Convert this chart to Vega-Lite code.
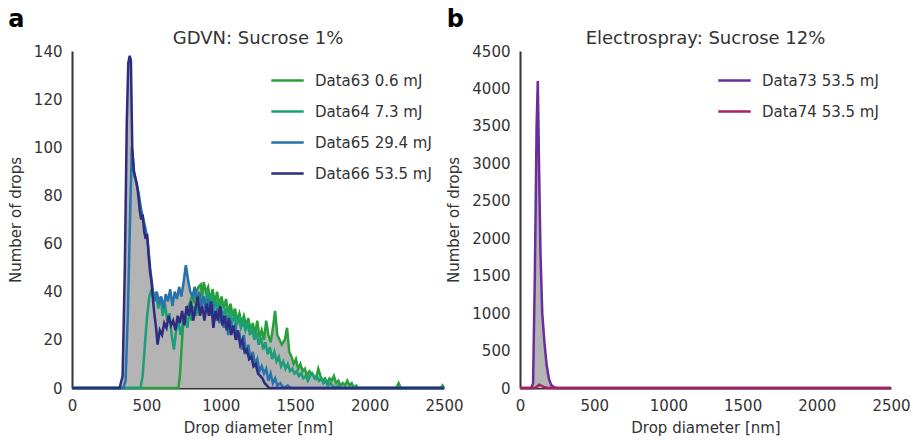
{
  "$schema": "https://vega.github.io/schema/vega-lite/v6.json",
  "background": "white",
  "padding": {"left": 8, "top": 8, "right": 6, "bottom": 2},
  "config": {
    "font": "DejaVu Sans",
    "view": {"stroke": null},
    "axis": {"domainColor": "#333333", "domainWidth": 2, "ticks": false, "tickSize": 0, "grid": false, "labelFont": "DejaVu Sans", "labelFontSize": 15, "labelColor": "#333333", "labelPadding": 10, "titleFont": "DejaVu Sans", "titleFontSize": 15, "titleFontWeight": "normal", "titleColor": "#333333", "format": "d"},
    "legend": {"labelFont": "DejaVu Sans", "labelFontSize": 15, "labelColor": "#333333", "symbolType": "stroke", "symbolSize": 1050, "symbolStrokeWidth": 2.5, "labelOffset": 10, "rowPadding": 5, "orient": "top-right", "offset": 12},
    "title": {"font": "DejaVu Sans", "color": "#333333"}
  },
  "datasets": {
    "gdvn": [
      {"d":0,"n":0,"s":"Data63 0.6 mJ"},{"d":715,"n":0,"s":"Data63 0.6 mJ"},{"d":725,"n":5,"s":"Data63 0.6 mJ"},{"d":735,"n":15,"s":"Data63 0.6 mJ"},{"d":745,"n":25,"s":"Data63 0.6 mJ"},{"d":760,"n":30,"s":"Data63 0.6 mJ"},{"d":775,"n":33,"s":"Data63 0.6 mJ"},{"d":790,"n":35,"s":"Data63 0.6 mJ"},{"d":805,"n":38,"s":"Data63 0.6 mJ"},{"d":820,"n":36,"s":"Data63 0.6 mJ"},{"d":835,"n":40,"s":"Data63 0.6 mJ"},{"d":850,"n":42,"s":"Data63 0.6 mJ"},{"d":865,"n":43,"s":"Data63 0.6 mJ"},{"d":875,"n":38,"s":"Data63 0.6 mJ"},{"d":885,"n":44,"s":"Data63 0.6 mJ"},{"d":900,"n":40,"s":"Data63 0.6 mJ"},{"d":915,"n":42,"s":"Data63 0.6 mJ"},{"d":930,"n":36,"s":"Data63 0.6 mJ"},{"d":945,"n":41,"s":"Data63 0.6 mJ"},{"d":960,"n":35,"s":"Data63 0.6 mJ"},{"d":975,"n":40,"s":"Data63 0.6 mJ"},{"d":990,"n":34,"s":"Data63 0.6 mJ"},{"d":1005,"n":38,"s":"Data63 0.6 mJ"},{"d":1020,"n":33,"s":"Data63 0.6 mJ"},{"d":1035,"n":37,"s":"Data63 0.6 mJ"},{"d":1050,"n":31,"s":"Data63 0.6 mJ"},{"d":1065,"n":35,"s":"Data63 0.6 mJ"},{"d":1080,"n":30,"s":"Data63 0.6 mJ"},{"d":1095,"n":33,"s":"Data63 0.6 mJ"},{"d":1110,"n":28,"s":"Data63 0.6 mJ"},{"d":1125,"n":31,"s":"Data63 0.6 mJ"},{"d":1140,"n":27,"s":"Data63 0.6 mJ"},{"d":1155,"n":30,"s":"Data63 0.6 mJ"},{"d":1170,"n":26,"s":"Data63 0.6 mJ"},{"d":1185,"n":29,"s":"Data63 0.6 mJ"},{"d":1200,"n":24,"s":"Data63 0.6 mJ"},{"d":1215,"n":27,"s":"Data63 0.6 mJ"},{"d":1230,"n":22,"s":"Data63 0.6 mJ"},{"d":1245,"n":28,"s":"Data63 0.6 mJ"},{"d":1260,"n":21,"s":"Data63 0.6 mJ"},{"d":1275,"n":24,"s":"Data63 0.6 mJ"},{"d":1290,"n":20,"s":"Data63 0.6 mJ"},{"d":1305,"n":28,"s":"Data63 0.6 mJ"},{"d":1320,"n":22,"s":"Data63 0.6 mJ"},{"d":1335,"n":19,"s":"Data63 0.6 mJ"},{"d":1350,"n":25,"s":"Data63 0.6 mJ"},{"d":1365,"n":32,"s":"Data63 0.6 mJ"},{"d":1380,"n":22,"s":"Data63 0.6 mJ"},{"d":1395,"n":20,"s":"Data63 0.6 mJ"},{"d":1410,"n":18,"s":"Data63 0.6 mJ"},{"d":1430,"n":20,"s":"Data63 0.6 mJ"},{"d":1445,"n":25,"s":"Data63 0.6 mJ"},{"d":1460,"n":15,"s":"Data63 0.6 mJ"},{"d":1475,"n":13,"s":"Data63 0.6 mJ"},{"d":1490,"n":10,"s":"Data63 0.6 mJ"},{"d":1505,"n":12,"s":"Data63 0.6 mJ"},{"d":1520,"n":8,"s":"Data63 0.6 mJ"},{"d":1535,"n":10,"s":"Data63 0.6 mJ"},{"d":1550,"n":7,"s":"Data63 0.6 mJ"},{"d":1565,"n":8,"s":"Data63 0.6 mJ"},{"d":1580,"n":5,"s":"Data63 0.6 mJ"},{"d":1595,"n":7,"s":"Data63 0.6 mJ"},{"d":1610,"n":6,"s":"Data63 0.6 mJ"},{"d":1625,"n":5,"s":"Data63 0.6 mJ"},{"d":1640,"n":4,"s":"Data63 0.6 mJ"},{"d":1655,"n":8,"s":"Data63 0.6 mJ"},{"d":1670,"n":5,"s":"Data63 0.6 mJ"},{"d":1685,"n":3,"s":"Data63 0.6 mJ"},{"d":1700,"n":4,"s":"Data63 0.6 mJ"},{"d":1715,"n":2,"s":"Data63 0.6 mJ"},{"d":1730,"n":4,"s":"Data63 0.6 mJ"},{"d":1745,"n":3,"s":"Data63 0.6 mJ"},{"d":1760,"n":5,"s":"Data63 0.6 mJ"},{"d":1775,"n":2,"s":"Data63 0.6 mJ"},{"d":1790,"n":3,"s":"Data63 0.6 mJ"},{"d":1805,"n":1,"s":"Data63 0.6 mJ"},{"d":1820,"n":2,"s":"Data63 0.6 mJ"},{"d":1835,"n":1,"s":"Data63 0.6 mJ"},{"d":1850,"n":3,"s":"Data63 0.6 mJ"},{"d":1865,"n":1,"s":"Data63 0.6 mJ"},{"d":1880,"n":2,"s":"Data63 0.6 mJ"},{"d":1895,"n":0,"s":"Data63 0.6 mJ"},{"d":1910,"n":1,"s":"Data63 0.6 mJ"},{"d":1925,"n":0,"s":"Data63 0.6 mJ"},{"d":2180,"n":0,"s":"Data63 0.6 mJ"},{"d":2195,"n":2,"s":"Data63 0.6 mJ"},{"d":2210,"n":0,"s":"Data63 0.6 mJ"},{"d":2478,"n":0,"s":"Data63 0.6 mJ"},{"d":2490,"n":1,"s":"Data63 0.6 mJ"},{"d":2500,"n":0,"s":"Data63 0.6 mJ"},

      {"d":0,"n":0,"s":"Data64 7.3 mJ"},{"d":460,"n":0,"s":"Data64 7.3 mJ"},{"d":475,"n":5,"s":"Data64 7.3 mJ"},{"d":490,"n":18,"s":"Data64 7.3 mJ"},{"d":505,"n":30,"s":"Data64 7.3 mJ"},{"d":520,"n":38,"s":"Data64 7.3 mJ"},{"d":535,"n":41,"s":"Data64 7.3 mJ"},{"d":550,"n":36,"s":"Data64 7.3 mJ"},{"d":565,"n":40,"s":"Data64 7.3 mJ"},{"d":580,"n":33,"s":"Data64 7.3 mJ"},{"d":595,"n":38,"s":"Data64 7.3 mJ"},{"d":610,"n":30,"s":"Data64 7.3 mJ"},{"d":625,"n":35,"s":"Data64 7.3 mJ"},{"d":640,"n":28,"s":"Data64 7.3 mJ"},{"d":655,"n":31,"s":"Data64 7.3 mJ"},{"d":670,"n":22,"s":"Data64 7.3 mJ"},{"d":685,"n":16,"s":"Data64 7.3 mJ"},{"d":700,"n":24,"s":"Data64 7.3 mJ"},{"d":715,"n":28,"s":"Data64 7.3 mJ"},{"d":730,"n":22,"s":"Data64 7.3 mJ"},{"d":745,"n":27,"s":"Data64 7.3 mJ"},{"d":760,"n":30,"s":"Data64 7.3 mJ"},{"d":775,"n":25,"s":"Data64 7.3 mJ"},{"d":790,"n":32,"s":"Data64 7.3 mJ"},{"d":805,"n":28,"s":"Data64 7.3 mJ"},{"d":820,"n":34,"s":"Data64 7.3 mJ"},{"d":835,"n":30,"s":"Data64 7.3 mJ"},{"d":850,"n":36,"s":"Data64 7.3 mJ"},{"d":865,"n":32,"s":"Data64 7.3 mJ"},{"d":880,"n":38,"s":"Data64 7.3 mJ"},{"d":895,"n":34,"s":"Data64 7.3 mJ"},{"d":910,"n":40,"s":"Data64 7.3 mJ"},{"d":925,"n":36,"s":"Data64 7.3 mJ"},{"d":940,"n":38,"s":"Data64 7.3 mJ"},{"d":955,"n":33,"s":"Data64 7.3 mJ"},{"d":970,"n":36,"s":"Data64 7.3 mJ"},{"d":985,"n":31,"s":"Data64 7.3 mJ"},{"d":1000,"n":34,"s":"Data64 7.3 mJ"},{"d":1015,"n":30,"s":"Data64 7.3 mJ"},{"d":1030,"n":33,"s":"Data64 7.3 mJ"},{"d":1045,"n":28,"s":"Data64 7.3 mJ"},{"d":1060,"n":31,"s":"Data64 7.3 mJ"},{"d":1075,"n":27,"s":"Data64 7.3 mJ"},{"d":1090,"n":30,"s":"Data64 7.3 mJ"},{"d":1105,"n":26,"s":"Data64 7.3 mJ"},{"d":1120,"n":29,"s":"Data64 7.3 mJ"},{"d":1135,"n":25,"s":"Data64 7.3 mJ"},{"d":1150,"n":28,"s":"Data64 7.3 mJ"},{"d":1165,"n":24,"s":"Data64 7.3 mJ"},{"d":1180,"n":27,"s":"Data64 7.3 mJ"},{"d":1195,"n":22,"s":"Data64 7.3 mJ"},{"d":1210,"n":25,"s":"Data64 7.3 mJ"},{"d":1225,"n":20,"s":"Data64 7.3 mJ"},{"d":1240,"n":23,"s":"Data64 7.3 mJ"},{"d":1255,"n":18,"s":"Data64 7.3 mJ"},{"d":1270,"n":21,"s":"Data64 7.3 mJ"},{"d":1285,"n":16,"s":"Data64 7.3 mJ"},{"d":1300,"n":19,"s":"Data64 7.3 mJ"},{"d":1315,"n":14,"s":"Data64 7.3 mJ"},{"d":1330,"n":17,"s":"Data64 7.3 mJ"},{"d":1345,"n":12,"s":"Data64 7.3 mJ"},{"d":1360,"n":15,"s":"Data64 7.3 mJ"},{"d":1375,"n":11,"s":"Data64 7.3 mJ"},{"d":1390,"n":13,"s":"Data64 7.3 mJ"},{"d":1405,"n":9,"s":"Data64 7.3 mJ"},{"d":1420,"n":11,"s":"Data64 7.3 mJ"},{"d":1435,"n":8,"s":"Data64 7.3 mJ"},{"d":1450,"n":10,"s":"Data64 7.3 mJ"},{"d":1465,"n":7,"s":"Data64 7.3 mJ"},{"d":1480,"n":8,"s":"Data64 7.3 mJ"},{"d":1495,"n":6,"s":"Data64 7.3 mJ"},{"d":1510,"n":7,"s":"Data64 7.3 mJ"},{"d":1525,"n":5,"s":"Data64 7.3 mJ"},{"d":1540,"n":6,"s":"Data64 7.3 mJ"},{"d":1555,"n":4,"s":"Data64 7.3 mJ"},{"d":1570,"n":5,"s":"Data64 7.3 mJ"},{"d":1585,"n":3,"s":"Data64 7.3 mJ"},{"d":1600,"n":5,"s":"Data64 7.3 mJ"},{"d":1615,"n":6,"s":"Data64 7.3 mJ"},{"d":1630,"n":4,"s":"Data64 7.3 mJ"},{"d":1645,"n":5,"s":"Data64 7.3 mJ"},{"d":1660,"n":3,"s":"Data64 7.3 mJ"},{"d":1675,"n":4,"s":"Data64 7.3 mJ"},{"d":1690,"n":2,"s":"Data64 7.3 mJ"},{"d":1705,"n":3,"s":"Data64 7.3 mJ"},{"d":1720,"n":1,"s":"Data64 7.3 mJ"},{"d":1735,"n":2,"s":"Data64 7.3 mJ"},{"d":1750,"n":1,"s":"Data64 7.3 mJ"},{"d":1770,"n":0,"s":"Data64 7.3 mJ"},{"d":1790,"n":1,"s":"Data64 7.3 mJ"},{"d":1810,"n":0,"s":"Data64 7.3 mJ"},{"d":2500,"n":0,"s":"Data64 7.3 mJ"},

      {"d":0,"n":0,"s":"Data65 29.4 mJ"},{"d":345,"n":0,"s":"Data65 29.4 mJ"},{"d":360,"n":3,"s":"Data65 29.4 mJ"},{"d":375,"n":30,"s":"Data65 29.4 mJ"},{"d":390,"n":70,"s":"Data65 29.4 mJ"},{"d":402,"n":100,"s":"Data65 29.4 mJ"},{"d":410,"n":95,"s":"Data65 29.4 mJ"},{"d":420,"n":88,"s":"Data65 29.4 mJ"},{"d":435,"n":85,"s":"Data65 29.4 mJ"},{"d":450,"n":80,"s":"Data65 29.4 mJ"},{"d":465,"n":74,"s":"Data65 29.4 mJ"},{"d":480,"n":70,"s":"Data65 29.4 mJ"},{"d":495,"n":66,"s":"Data65 29.4 mJ"},{"d":510,"n":60,"s":"Data65 29.4 mJ"},{"d":525,"n":50,"s":"Data65 29.4 mJ"},{"d":540,"n":42,"s":"Data65 29.4 mJ"},{"d":555,"n":36,"s":"Data65 29.4 mJ"},{"d":570,"n":40,"s":"Data65 29.4 mJ"},{"d":585,"n":35,"s":"Data65 29.4 mJ"},{"d":600,"n":38,"s":"Data65 29.4 mJ"},{"d":615,"n":33,"s":"Data65 29.4 mJ"},{"d":630,"n":39,"s":"Data65 29.4 mJ"},{"d":645,"n":36,"s":"Data65 29.4 mJ"},{"d":660,"n":41,"s":"Data65 29.4 mJ"},{"d":675,"n":34,"s":"Data65 29.4 mJ"},{"d":690,"n":40,"s":"Data65 29.4 mJ"},{"d":705,"n":37,"s":"Data65 29.4 mJ"},{"d":720,"n":42,"s":"Data65 29.4 mJ"},{"d":735,"n":38,"s":"Data65 29.4 mJ"},{"d":750,"n":44,"s":"Data65 29.4 mJ"},{"d":765,"n":51,"s":"Data65 29.4 mJ"},{"d":780,"n":45,"s":"Data65 29.4 mJ"},{"d":795,"n":40,"s":"Data65 29.4 mJ"},{"d":810,"n":38,"s":"Data65 29.4 mJ"},{"d":825,"n":42,"s":"Data65 29.4 mJ"},{"d":840,"n":36,"s":"Data65 29.4 mJ"},{"d":855,"n":40,"s":"Data65 29.4 mJ"},{"d":870,"n":34,"s":"Data65 29.4 mJ"},{"d":885,"n":38,"s":"Data65 29.4 mJ"},{"d":900,"n":32,"s":"Data65 29.4 mJ"},{"d":915,"n":37,"s":"Data65 29.4 mJ"},{"d":930,"n":30,"s":"Data65 29.4 mJ"},{"d":945,"n":35,"s":"Data65 29.4 mJ"},{"d":960,"n":28,"s":"Data65 29.4 mJ"},{"d":975,"n":33,"s":"Data65 29.4 mJ"},{"d":990,"n":27,"s":"Data65 29.4 mJ"},{"d":1005,"n":32,"s":"Data65 29.4 mJ"},{"d":1020,"n":25,"s":"Data65 29.4 mJ"},{"d":1035,"n":30,"s":"Data65 29.4 mJ"},{"d":1050,"n":22,"s":"Data65 29.4 mJ"},{"d":1065,"n":28,"s":"Data65 29.4 mJ"},{"d":1080,"n":24,"s":"Data65 29.4 mJ"},{"d":1095,"n":26,"s":"Data65 29.4 mJ"},{"d":1110,"n":20,"s":"Data65 29.4 mJ"},{"d":1125,"n":23,"s":"Data65 29.4 mJ"},{"d":1140,"n":16,"s":"Data65 29.4 mJ"},{"d":1155,"n":22,"s":"Data65 29.4 mJ"},{"d":1170,"n":14,"s":"Data65 29.4 mJ"},{"d":1185,"n":18,"s":"Data65 29.4 mJ"},{"d":1200,"n":12,"s":"Data65 29.4 mJ"},{"d":1215,"n":15,"s":"Data65 29.4 mJ"},{"d":1230,"n":10,"s":"Data65 29.4 mJ"},{"d":1245,"n":12,"s":"Data65 29.4 mJ"},{"d":1260,"n":7,"s":"Data65 29.4 mJ"},{"d":1275,"n":9,"s":"Data65 29.4 mJ"},{"d":1290,"n":6,"s":"Data65 29.4 mJ"},{"d":1305,"n":8,"s":"Data65 29.4 mJ"},{"d":1320,"n":3,"s":"Data65 29.4 mJ"},{"d":1335,"n":6,"s":"Data65 29.4 mJ"},{"d":1350,"n":2,"s":"Data65 29.4 mJ"},{"d":1365,"n":4,"s":"Data65 29.4 mJ"},{"d":1380,"n":1,"s":"Data65 29.4 mJ"},{"d":1400,"n":2,"s":"Data65 29.4 mJ"},{"d":1420,"n":0,"s":"Data65 29.4 mJ"},{"d":1450,"n":1,"s":"Data65 29.4 mJ"},{"d":1470,"n":0,"s":"Data65 29.4 mJ"},{"d":2500,"n":0,"s":"Data65 29.4 mJ"},

      {"d":0,"n":0,"s":"Data66 53.5 mJ"},{"d":320,"n":0,"s":"Data66 53.5 mJ"},{"d":340,"n":5,"s":"Data66 53.5 mJ"},{"d":355,"n":50,"s":"Data66 53.5 mJ"},{"d":368,"n":110,"s":"Data66 53.5 mJ"},{"d":378,"n":135,"s":"Data66 53.5 mJ"},{"d":388,"n":138,"s":"Data66 53.5 mJ"},{"d":396,"n":136,"s":"Data66 53.5 mJ"},{"d":405,"n":100,"s":"Data66 53.5 mJ"},{"d":415,"n":90,"s":"Data66 53.5 mJ"},{"d":428,"n":87,"s":"Data66 53.5 mJ"},{"d":442,"n":82,"s":"Data66 53.5 mJ"},{"d":455,"n":74,"s":"Data66 53.5 mJ"},{"d":465,"n":70,"s":"Data66 53.5 mJ"},{"d":475,"n":72,"s":"Data66 53.5 mJ"},{"d":485,"n":65,"s":"Data66 53.5 mJ"},{"d":495,"n":62,"s":"Data66 53.5 mJ"},{"d":505,"n":64,"s":"Data66 53.5 mJ"},{"d":515,"n":55,"s":"Data66 53.5 mJ"},{"d":525,"n":48,"s":"Data66 53.5 mJ"},{"d":535,"n":44,"s":"Data66 53.5 mJ"},{"d":545,"n":36,"s":"Data66 53.5 mJ"},{"d":555,"n":30,"s":"Data66 53.5 mJ"},{"d":565,"n":25,"s":"Data66 53.5 mJ"},{"d":575,"n":18,"s":"Data66 53.5 mJ"},{"d":590,"n":24,"s":"Data66 53.5 mJ"},{"d":605,"n":22,"s":"Data66 53.5 mJ"},{"d":620,"n":27,"s":"Data66 53.5 mJ"},{"d":635,"n":25,"s":"Data66 53.5 mJ"},{"d":650,"n":30,"s":"Data66 53.5 mJ"},{"d":665,"n":26,"s":"Data66 53.5 mJ"},{"d":680,"n":28,"s":"Data66 53.5 mJ"},{"d":695,"n":24,"s":"Data66 53.5 mJ"},{"d":710,"n":30,"s":"Data66 53.5 mJ"},{"d":725,"n":27,"s":"Data66 53.5 mJ"},{"d":740,"n":32,"s":"Data66 53.5 mJ"},{"d":755,"n":26,"s":"Data66 53.5 mJ"},{"d":770,"n":34,"s":"Data66 53.5 mJ"},{"d":785,"n":30,"s":"Data66 53.5 mJ"},{"d":800,"n":36,"s":"Data66 53.5 mJ"},{"d":815,"n":28,"s":"Data66 53.5 mJ"},{"d":830,"n":33,"s":"Data66 53.5 mJ"},{"d":845,"n":38,"s":"Data66 53.5 mJ"},{"d":860,"n":30,"s":"Data66 53.5 mJ"},{"d":875,"n":34,"s":"Data66 53.5 mJ"},{"d":890,"n":28,"s":"Data66 53.5 mJ"},{"d":905,"n":35,"s":"Data66 53.5 mJ"},{"d":920,"n":30,"s":"Data66 53.5 mJ"},{"d":935,"n":36,"s":"Data66 53.5 mJ"},{"d":950,"n":25,"s":"Data66 53.5 mJ"},{"d":965,"n":32,"s":"Data66 53.5 mJ"},{"d":980,"n":28,"s":"Data66 53.5 mJ"},{"d":995,"n":34,"s":"Data66 53.5 mJ"},{"d":1010,"n":26,"s":"Data66 53.5 mJ"},{"d":1025,"n":30,"s":"Data66 53.5 mJ"},{"d":1040,"n":24,"s":"Data66 53.5 mJ"},{"d":1055,"n":29,"s":"Data66 53.5 mJ"},{"d":1070,"n":22,"s":"Data66 53.5 mJ"},{"d":1085,"n":26,"s":"Data66 53.5 mJ"},{"d":1100,"n":20,"s":"Data66 53.5 mJ"},{"d":1115,"n":24,"s":"Data66 53.5 mJ"},{"d":1130,"n":18,"s":"Data66 53.5 mJ"},{"d":1145,"n":20,"s":"Data66 53.5 mJ"},{"d":1160,"n":15,"s":"Data66 53.5 mJ"},{"d":1175,"n":16,"s":"Data66 53.5 mJ"},{"d":1190,"n":12,"s":"Data66 53.5 mJ"},{"d":1205,"n":13,"s":"Data66 53.5 mJ"},{"d":1220,"n":9,"s":"Data66 53.5 mJ"},{"d":1235,"n":10,"s":"Data66 53.5 mJ"},{"d":1250,"n":6,"s":"Data66 53.5 mJ"},{"d":1265,"n":5,"s":"Data66 53.5 mJ"},{"d":1280,"n":4,"s":"Data66 53.5 mJ"},{"d":1295,"n":2,"s":"Data66 53.5 mJ"},{"d":1310,"n":1,"s":"Data66 53.5 mJ"},{"d":1325,"n":0,"s":"Data66 53.5 mJ"},{"d":2500,"n":0,"s":"Data66 53.5 mJ"}
    ],
    "es": [
      {"d":0,"n":0,"s":"Data73 53.5 mJ"},{"d":75,"n":0,"s":"Data73 53.5 mJ"},{"d":88,"n":60,"s":"Data73 53.5 mJ"},{"d":100,"n":1500,"s":"Data73 53.5 mJ"},{"d":112,"n":3500,"s":"Data73 53.5 mJ"},{"d":120,"n":4100,"s":"Data73 53.5 mJ"},{"d":128,"n":3000,"s":"Data73 53.5 mJ"},{"d":138,"n":1800,"s":"Data73 53.5 mJ"},{"d":150,"n":1000,"s":"Data73 53.5 mJ"},{"d":165,"n":600,"s":"Data73 53.5 mJ"},{"d":180,"n":300,"s":"Data73 53.5 mJ"},{"d":195,"n":120,"s":"Data73 53.5 mJ"},{"d":210,"n":40,"s":"Data73 53.5 mJ"},{"d":230,"n":10,"s":"Data73 53.5 mJ"},{"d":250,"n":0,"s":"Data73 53.5 mJ"},{"d":2500,"n":0,"s":"Data73 53.5 mJ"},
      {"d":0,"n":0,"s":"Data74 53.5 mJ"},{"d":100,"n":0,"s":"Data74 53.5 mJ"},{"d":115,"n":20,"s":"Data74 53.5 mJ"},{"d":130,"n":45,"s":"Data74 53.5 mJ"},{"d":145,"n":30,"s":"Data74 53.5 mJ"},{"d":165,"n":10,"s":"Data74 53.5 mJ"},{"d":190,"n":0,"s":"Data74 53.5 mJ"},{"d":2500,"n":0,"s":"Data74 53.5 mJ"}
    ]
  },
  "hconcat": [
    {
      "title": {"text": "a", "anchor": "start", "fontSize": 24, "fontWeight": "bold", "color": "#000000", "offset": -2},
      "resolve": {"scale": {"color": "independent"}, "legend": {"color": "independent"}},
      "vconcat": [
        {
          "title": {"text": "GDVN: Sucrose 1%", "fontSize": 18, "fontWeight": "normal", "offset": -4},
          "width": 372,
          "height": 337,
          "data": {"name": "gdvn"},
          "encoding": {
            "x": {"field": "d", "type": "quantitative", "scale": {"domain": [0, 2500], "nice": false}, "axis": {"values": [0, 500, 1000, 1500, 2000, 2500], "title": "Drop diameter [nm]", "labelFlush": false, "titlePadding": 7}},
            "y": {"field": "n", "type": "quantitative", "stack": null, "scale": {"domain": [0, 140], "nice": false}, "axis": {"values": [0, 20, 40, 60, 80, 100, 120, 140], "title": "Number of drops", "titlePadding": 10}}
          },
          "layer": [
            {"mark": {"type": "area", "color": "#b4b4b4", "opacity": 1}, "encoding": {"detail": {"field": "s", "type": "nominal"}}},
            {"mark": {"type": "line", "strokeWidth": 2.5}, "encoding": {"color": {"field": "s", "type": "nominal", "scale": {"domain": ["Data63 0.6 mJ", "Data64 7.3 mJ", "Data65 29.4 mJ", "Data66 53.5 mJ"], "range": ["#27a03c", "#1b9e78", "#2772aa", "#2d2c80"]}, "legend": {"title": null}}}}
          ]
        }
      ]
    },
    {
      "title": {"text": "b", "anchor": "start", "fontSize": 24, "fontWeight": "bold", "color": "#000000", "offset": -2},
      "resolve": {"scale": {"color": "independent"}, "legend": {"color": "independent"}},
      "vconcat": [
        {
          "title": {"text": "Electrospray: Sucrose 12%", "fontSize": 18, "fontWeight": "normal", "offset": -4},
          "width": 371,
          "height": 337,
          "data": {"name": "es"},
          "encoding": {
            "x": {"field": "d", "type": "quantitative", "scale": {"domain": [0, 2500], "nice": false}, "axis": {"values": [0, 500, 1000, 1500, 2000, 2500], "title": "Drop diameter [nm]", "labelFlush": false, "titlePadding": 7}},
            "y": {"field": "n", "type": "quantitative", "stack": null, "scale": {"domain": [0, 4500], "nice": false}, "axis": {"values": [0, 500, 1000, 1500, 2000, 2500, 3000, 3500, 4000, 4500], "title": "Number of drops", "titlePadding": 10}}
          },
          "layer": [
            {"mark": {"type": "area", "color": "#b4b4b4", "opacity": 1}, "encoding": {"detail": {"field": "s", "type": "nominal"}}},
            {"mark": {"type": "line", "strokeWidth": 2.5}, "encoding": {"color": {"field": "s", "type": "nominal", "scale": {"domain": ["Data73 53.5 mJ", "Data74 53.5 mJ"], "range": ["#6a2d9c", "#a81f62"]}, "legend": {"title": null}}}}
          ]
        }
      ]
    }
  ],
  "spacing": -18,
  "resolve": {"scale": {"color": "independent"}, "legend": {"color": "independent"}}
}
